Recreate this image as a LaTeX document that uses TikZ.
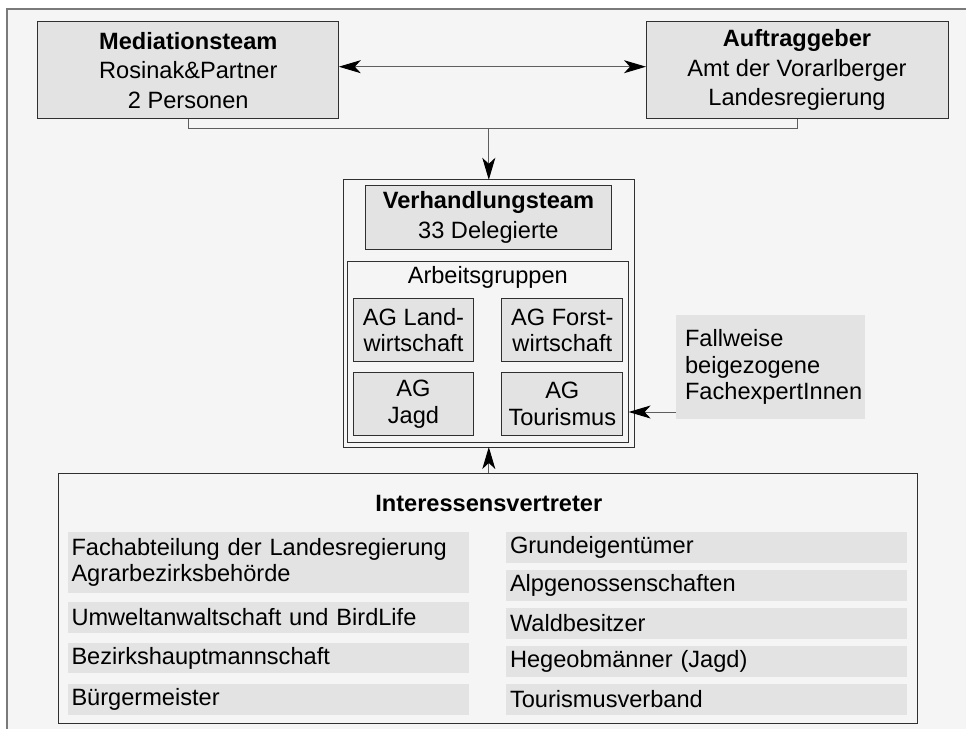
\documentclass[tikz,border=0pt]{standalone}
\usepackage{fontspec}
\setmainfont{Liberation Sans}
\usetikzlibrary{arrows.meta}
\definecolor{bgfill}{HTML}{F5F5F5}
\definecolor{boxfill}{HTML}{E3E3E3}
\definecolor{frameline}{HTML}{7A7A7A}
\definecolor{boxline}{HTML}{303030}
\definecolor{connline}{HTML}{5E5E5E}

\begin{document}
\begin{tikzpicture}[x=1pt,y=-1pt]
    \tikzstyle{every node}+=[inner sep=0pt, outer sep=0pt, font=\fontsize{23.6}{26.5}\selectfont]
    \tikzstyle{box}=[draw=boxline, fill=boxfill, line width=1pt, align=center]
    \tikzstyle{frame}=[draw=boxline, line width=1pt]
    \tikzstyle{item}=[fill=boxfill, anchor=north west, align=left, inner xsep=3.5pt, minimum height=30.7pt]
    \tikzstyle{conn}=[draw=connline, line width=1pt]
    \tikzstyle{arr}=[conn, -{Stealth[length=22pt,width=13pt,inset=6pt,black]}]
    \tikzstyle{dblarr}=[conn, {Stealth[length=22pt,width=13pt,inset=6pt,black]}-{Stealth[length=22pt,width=13pt,inset=6pt,black]}]
    \useasboundingbox (0,0) rectangle (966,729);
    \fill [bgfill] (7,9) rectangle (966,729);
    \draw [frameline, line width=1.3pt] (7,729) -- (7,9) -- (966,9);
    % top row
    \node [box, minimum width=301pt, minimum height=97pt, font=\fontsize{23.6}{29.5}\selectfont] (med) at (188.3,70.3) {\textbf{Mediationsteam}\\Rosinak\&Partner\\2 Personen};
    \node [box, minimum width=302pt, minimum height=97pt, font=\fontsize{23.6}{29.5}\selectfont] (auf) at (797,70.3) {\textbf{Auftraggeber}\\Amt der Vorarlberger\\Landesregierung};
    % negotiation team
    \node [frame, minimum width=291.6pt, minimum height=267.2pt] (team) at (488.8,313.4) {};
    \node [box, minimum width=246.8pt, minimum height=63.6pt, font=\fontsize{23.6}{30}\selectfont] (vt) at (488.4,217.2) {\textbf{Verhandlungsteam}\\33 Delegierte};
    \node [frame, minimum width=281.6pt, minimum height=181.6pt] (ag) at (487.8,351.8) {};
    \node (agtitle) at (487.8,277) {Arbeitsgruppen};
    \node [box, minimum width=120.8pt, minimum height=62.8pt] (agland) at (413.5,330.2) {AG Land-\\wirtschaft};
    \node [box, minimum width=120.8pt, minimum height=62.8pt] (agforst) at (562.3,330.2) {AG Forst-\\wirtschaft};
    \node [box, minimum width=120.8pt, minimum height=62.8pt] (agjagd) at (413.5,404) {AG\\Jagd};
    \node [box, minimum width=120.8pt, minimum height=62.8pt] (agtour) at (562.3,404) {AG\\Tourismus};
    \node [fill=boxfill, align=left, text width=170.7pt, inner xsep=9pt, minimum height=104pt] (fach) at (770.4,367) {Fallweise\\beigezogene\\FachexpertInnen};
    % stakeholders
    \node [frame, minimum width=858.3pt, minimum height=250pt] (iv) at (487.85,598.3) {};
    \node [font=\fontsize{23.6}{26.5}\selectfont\bfseries] (ivtitle) at (488.8,503) {Interessensvertreter};
    \node [item, text width=394pt, minimum height=60.7pt] (fachab) at (68,532) {Fachabteilung der Landesregierung\\Agrarbezirksbehörde};
    \node [item, text width=394pt] (umwelt) at (68,602) {Umweltanwaltschaft und BirdLife};
    \node [item, text width=394pt] (bh) at (68,642.7) {Bezirkshauptmannschaft};
    \node [item, text width=394pt] (bgm) at (68,684) {Bürgermeister};
    \node [item, text width=392.7pt, inner xsep=4pt] (grund) at (506,532) {Grundeigentümer};
    \node [item, text width=392.7pt, inner xsep=4pt] (alp) at (506,570) {Alpgenossenschaften};
    \node [item, text width=392.7pt, inner xsep=4pt] (wald) at (506,608) {Waldbesitzer};
    \node [item, text width=392.7pt, inner xsep=4pt] (hege) at (506,646) {Hegeobmänner (Jagd)};
    \node [item, text width=392.7pt, inner xsep=4pt] (tour) at (506,684) {Tourismusverband};
    % connectors
    \path (med.east) ++(0,-3.6) coordinate (medr);
    \draw [dblarr] (medr) -- (medr -| auf.west);
    \path (med.south) ++(0,10) coordinate (bus);
    \draw [conn] (med.south) -- (bus) -| (auf.south);
    \draw [arr] (bus -| team.north) -- (team.north);
    \path (fach.west) ++(0,45) coordinate (fachin);
    \draw [arr] (fachin) -- (fachin -| ag.east);
    \draw [arr] (iv.north -| team.south) -- (team.south);
\end{tikzpicture}
\end{document}
